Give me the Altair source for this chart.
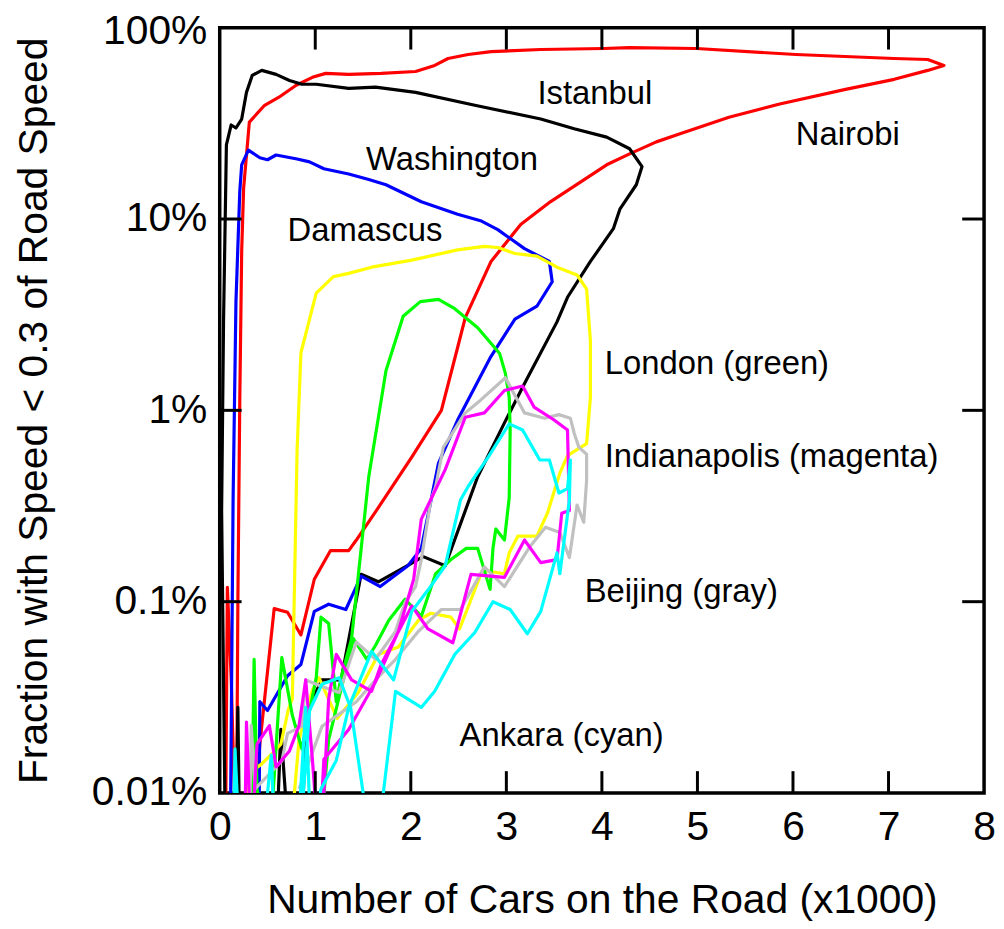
import altair as alt
import pandas as pd

# ---------------- data (x = cars in thousands, y = percent) ----------------
cities = ["Nairobi", "Istanbul", "Washington", "Damascus", "London",
          "Beijing", "Indianapolis", "Ankara"]
colors = ["#ff0000", "#000000", "#0000ff", "#ffff00", "#00ff00",
          "#c0c0c0", "#ff00ff", "#00ffff"]

nairobi_x = [0.06, 0.08, 0.12, 0.17, 0.18, 0.19, 0.21, 0.23, 0.25, 0.31, 0.47, 0.62, 0.80, 0.97,
             1.11, 1.35, 1.69, 2.05, 2.25, 2.39, 2.60, 2.84, 3.36, 4.02, 4.29, 4.99, 6.03, 7.06,
             7.41, 7.58, 7.41, 7.06, 6.55, 5.85, 5.33, 4.81, 4.57, 4.29, 4.05, 3.46, 3.15, 2.84,
             2.57, 2.49, 2.32, 2.01, 1.66, 1.43, 1.35, 1.16, 0.99, 0.85, 0.71, 0.57, 0.42, 0.34]
nairobi_y = [0.005, 0.119, 0.040, 0.005, 0.015, 0.10, 1.13, 6.8, 14.4, 32.1, 39.3, 43.3, 50, 55,
             57.7, 57, 57.7, 59, 63.5, 69, 72.4, 75, 76.9, 77.8, 78.7, 77.8, 72.4, 69,
             68.2, 63.5, 59.8, 53.7, 47.6, 39.8, 34, 27.8, 25.3, 21.9, 19.2, 12.3, 9.35, 6.0,
             3.05, 2.13, 1.0, 0.57, 0.31, 0.21, 0.185, 0.185, 0.131, 0.067, 0.088, 0.092, 0.018, 0.005]

istanbul_x = [0.06, 0.02, 0.04, 0.07, 0.12, 0.17, 0.23, 0.28, 0.34, 0.44, 0.59, 0.73, 0.86, 1.01,
              1.35, 1.63, 2.05, 2.67, 3.36, 3.71, 4.05, 4.29, 4.42, 4.36, 4.19, 4.12, 3.88, 3.64,
              3.53, 3.19, 2.98, 2.70, 2.36, 2.13, 1.90, 1.66, 1.48, 1.27, 1.07, 0.91, 0.85, 0.73,
              0.64, 0.59, 0.21, 0.19, 0.17]
istanbul_y = [0.005, 0.3, 2.9, 24.4, 31, 29.9, 33.3, 45.9, 56.3, 59.8, 57, 53, 50.6, 50.6,
              48.2, 48.9, 45.9, 39.3, 33.3, 29.6, 26.8, 23.3, 18.8, 15.1, 11.3, 8.9, 6.0, 3.9,
              2.9, 1.38, 0.86, 0.45, 0.154, 0.172, 0.148, 0.127, 0.139, 0.039, 0.039, 0.027, 0.005, 0.005,
              0.0215, 0.005, 0.005, 0.028, 0.005]

washington_x = [0.11, 0.14, 0.17, 0.21, 0.23, 0.30, 0.42, 0.50, 0.59, 0.81, 0.94, 1.09, 1.35,
                1.56, 1.74, 2.11, 2.49, 2.73, 2.91, 3.19, 3.45, 3.48, 3.32, 3.09, 2.83, 2.49,
                2.29, 2.11, 1.97, 1.68, 1.48, 1.32, 1.14, 0.99, 0.85, 0.71, 0.50, 0.42, 0.41]
washington_y = [0.005, 0.34, 3.7, 13.9, 19.2, 22.9, 20.9, 20.4, 21.6, 20.6, 19.9, 18.3, 17.2,
                16.1, 15.1, 12.3, 10.6, 9.8, 8.8, 7.0, 6.0, 4.7, 3.5, 3.0, 1.88, 0.89,
                0.53, 0.19, 0.154, 0.12, 0.136, 0.091, 0.097, 0.089, 0.047, 0.041, 0.027, 0.030, 0.005]

damascus_x = [0.26, 0.31, 0.44, 0.54, 0.64, 0.72, 0.76, 0.79, 0.81, 0.85, 1.01, 1.19, 1.35, 1.59,
              2.01, 2.49, 2.77, 2.91, 3.09, 3.32, 3.53, 3.74, 3.84, 3.88, 3.88, 3.84, 3.64, 3.56,
              3.43, 3.32, 3.12, 3.03, 2.98, 2.75, 2.51, 2.42, 2.21, 2.08, 1.87, 1.66, 1.45, 1.23,
              1.04, 0.97, 0.83, 0.73]
damascus_y = [0.005, 0.0127, 0.0142, 0.0159, 0.018, 0.0275, 0.031, 0.19, 0.62, 2.0, 4.1, 5.0, 5.2, 5.6,
              6.1, 6.9, 7.2, 7.1, 6.6, 6.4, 5.6, 5.1, 4.3, 2.3, 1.17, 0.67, 0.58, 0.47,
              0.29, 0.22, 0.22, 0.18, 0.14, 0.146, 0.072, 0.083, 0.087, 0.080, 0.058, 0.053, 0.0335, 0.0245,
              0.040, 0.0345, 0.019, 0.005]

london_x = [0.33, 0.36, 0.39, 0.52, 0.65, 0.76, 0.86, 1.01, 1.06, 1.14, 1.22, 1.27, 1.38, 1.49,
            1.56, 1.74, 1.92, 2.10, 2.29, 2.46, 2.70, 2.93, 2.99, 3.03, 3.04, 3.03, 2.98, 2.89,
            2.86, 2.83, 2.70, 2.58, 2.42, 2.26, 2.11, 1.94, 1.77, 1.63, 1.54, 1.40, 1.14, 1.04]
london_y = [0.005, 0.050, 0.0105, 0.005, 0.051, 0.0255, 0.017, 0.040, 0.083, 0.077, 0.030, 0.040, 0.064, 0.21,
            0.45, 1.61, 3.1, 3.7, 3.8, 3.4, 2.7, 1.98, 1.56, 1.17, 0.79, 0.35, 0.21, 0.24,
            0.19, 0.116, 0.19, 0.19, 0.166, 0.14, 0.084, 0.103, 0.080, 0.059, 0.050, 0.064, 0.019, 0.005]

indianapolis_x = [0.26, 0.28, 0.33, 0.39, 0.52, 0.59, 0.73, 0.83, 0.90, 0.97, 1.04, 1.09, 1.35, 1.63,
                  1.87, 2.03, 2.11, 2.36, 2.57, 2.77, 2.98, 3.17, 3.29, 3.50, 3.64, 3.66, 3.58, 3.53,
                  3.36, 3.19, 2.98, 2.63, 2.44, 2.18, 2.01, 1.69, 1.59, 1.38, 1.22, 1.14, 1.06]
indianapolis_y = [0.005, 0.0235, 0.005, 0.018, 0.0225, 0.0137, 0.0166, 0.0225, 0.039, 0.015, 0.005, 0.015, 0.0215, 0.038,
                  0.070, 0.131, 0.27, 0.49, 0.92, 0.97, 1.27, 1.34, 1.04, 0.89, 0.79, 0.30, 0.29, 0.166,
                  0.16, 0.21, 0.134, 0.139, 0.061, 0.072, 0.095, 0.047, 0.034, 0.039, 0.053, 0.031, 0.005]

beijing_x = [0.31, 0.33, 0.37, 0.65, 0.71, 0.86, 0.90, 1.07, 1.25, 1.43, 1.63, 1.84, 1.94, 2.05,
             2.11, 2.21, 2.26, 2.34, 2.57, 2.73, 2.99, 3.10, 3.19, 3.40, 3.55, 3.67, 3.71, 3.76,
             3.84, 3.84, 3.81, 3.74, 3.66, 3.56, 3.41, 3.25, 2.98, 2.77, 2.52, 2.32, 2.08, 1.84,
             1.63, 1.43, 1.07, 0.83]
beijing_y = [0.005, 0.0226, 0.0105, 0.0147, 0.0205, 0.0223, 0.039, 0.036, 0.0335, 0.0615, 0.050, 0.070, 0.099, 0.12,
             0.166, 0.34, 0.40, 0.64, 0.97, 1.13, 1.48, 1.17, 0.97, 0.91, 0.95, 0.91, 0.76, 0.64,
             0.59, 0.43, 0.26, 0.32, 0.17, 0.23, 0.245, 0.195, 0.12, 0.152, 0.091, 0.091, 0.070, 0.050,
             0.039, 0.030, 0.0223, 0.0105]

ankara_x = [0.14, 0.16, 0.21, 0.44, 0.54, 0.58, 0.81, 0.90, 0.96, 1.06, 1.22, 1.35, 1.59, 1.82,
            2.01, 2.18, 2.36, 2.52, 2.60, 2.81, 3.03, 3.17, 3.35, 3.45, 3.55, 3.64, 3.67, 3.66,
            3.56, 3.53, 3.36, 3.22, 3.04, 2.86, 2.67, 2.46, 2.25, 2.11, 1.84, 1.64, 1.59, 1.37,
            1.25, 1.07, 0.94, 0.83]
ankara_y = [0.005, 0.017, 0.005, 0.005, 0.0158, 0.005, 0.005, 0.028, 0.005, 0.0105, 0.0148, 0.028, 0.055, 0.039,
            0.089, 0.115, 0.154, 0.34, 0.40, 0.57, 0.85, 0.79, 0.55, 0.55, 0.37, 0.39, 0.55, 0.34,
            0.14, 0.18, 0.089, 0.068, 0.091, 0.10, 0.069, 0.053, 0.034, 0.028, 0.034, 0.005, 0.005, 0.028,
            0.040, 0.037, 0.027, 0.005]

label_text = ["Istanbul", "Nairobi", "Washington", "Damascus", "London (green)",
              "Indianapolis (magenta)", "Beijing (gray)", "Ankara (cyan)"]
label_x = [3.325, 6.03, 1.53, 0.71, 4.03, 4.03, 3.82, 2.51]
label_y = [39.8, 24.4, 18.1, 7.64, 1.54, 0.506, 0.10, 0.0177]

x_ticks = [0, 1, 2, 3, 4, 5, 6, 7, 8]
y_ticks = [0.01, 0.1, 1, 10, 100]

# ---------------- build tables ----------------
series = {
    "Nairobi": (nairobi_x, nairobi_y),
    "Istanbul": (istanbul_x, istanbul_y),
    "Washington": (washington_x, washington_y),
    "Damascus": (damascus_x, damascus_y),
    "London": (london_x, london_y),
    "Beijing": (beijing_x, beijing_y),
    "Indianapolis": (indianapolis_x, indianapolis_y),
    "Ankara": (ankara_x, ankara_y),
}
rows = []
for city in cities:
    xs, ys = series[city]
    for i, (a, b) in enumerate(zip(xs, ys)):
        rows.append({"city": city, "idx": i, "cars": a, "frac": b})
df = pd.DataFrame(rows)
labels_df = pd.DataFrame({"text": label_text, "cars": label_x, "frac": label_y})
xt_df = pd.DataFrame({"cars": x_ticks[1:-1]})
yt_df = pd.DataFrame({"frac": y_ticks[1:-1]})

W, H = 769, 770
FONT = "Liberation Sans"
xscale = alt.Scale(domain=[0, 8], nice=False, zero=False)
yscale = alt.Scale(type="log", domain=[0.01, 100], nice=False)

x_axis = alt.Axis(values=x_ticks, title="Number of Cars on the Road (x1000)",
                  grid=False, ticks=False, tickSize=0, domain=False,
                  labelFlush=False, labelOverlap=False,
                  labelPadding=15, titlePadding=33)
y_axis = alt.Axis(values=y_ticks, labelExpr="datum.value + '%'",
                  title="Fraction with Speed < 0.3 of Road Speed",
                  grid=False, ticks=False, tickSize=0, domain=False,
                  labelFlush=False, labelOverlap=False,
                  labelOffset={"condition": {"test": "datum.value == 100", "value": 4}, "value": 0},
                  labelPadding=13, titleX=-186, titleY=385,
                  titleAngle=-90, titleBaseline="middle", titleAlign="center")

X = alt.X("cars:Q", scale=xscale, axis=x_axis)
Y = alt.Y("frac:Q", scale=yscale, axis=y_axis)

lines = alt.Chart(df).mark_line(clip=True, strokeWidth=3.2, strokeJoin="round").encode(
    x=X, y=Y,
    color=alt.Color("city:N", scale=alt.Scale(domain=cities, range=colors), legend=None),
    order=alt.Order("idx:Q"),
    detail="city:N",
)

texts = alt.Chart(labels_df).mark_text(align="left", baseline="alphabetic", fontSize=33,
                                       font=FONT, color="black").encode(
    x=X, y=Y, text="text:N",
)

tick_style = dict(color="black", strokeWidth=3)
bottom_ticks = alt.Chart(xt_df).mark_rule(**tick_style).encode(
    x=X, y=alt.value(H), y2=alt.value(H - 22))
top_ticks = alt.Chart(xt_df).mark_rule(**tick_style).encode(
    x=X, y=alt.value(0), y2=alt.value(22))
left_ticks = alt.Chart(yt_df).mark_rule(**tick_style).encode(
    y=Y, x=alt.value(0), x2=alt.value(22))
right_ticks = alt.Chart(yt_df).mark_rule(**tick_style).encode(
    y=Y, x=alt.value(W - 22), x2=alt.value(W))

chart = alt.layer(lines, bottom_ticks, top_ticks, left_ticks, right_ticks, texts).properties(
    width=W, height=H,
    autosize=alt.AutoSizeParams(type="none"),
    padding={"left": 213, "top": 17, "right": 12, "bottom": 132},
).configure_view(
    stroke="black", strokeWidth=3.5
).configure_axis(
    labelFont=FONT, labelFontSize=41, labelColor="black",
    titleFont=FONT, titleFontSize=41, titleFontWeight="normal", titleColor="black",
)

chart.save("out.html", embed_options={"renderer": "svg", "actions": False})
